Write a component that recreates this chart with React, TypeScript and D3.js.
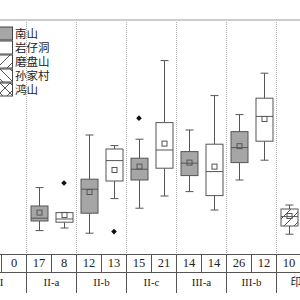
import React from 'react';
import * as d3 from 'd3';

// groups along the bottom, two cells (slots) per group
const groups = ['I', 'II-a', 'II-b', 'II-c', 'III-a', 'III-b', '印山'];
const slots = ['0', '1'];
const sites = ['南山', '岩仔洞', '磨盘山', '孙家村', '鸿山'];
const counts = [[null, 0], [17, 8], [12, 13], [15, 21], [14, 14], [26, 12], [10, null]];

// box statistics
const boxGroup = ['II-a', 'II-a', 'II-b', 'II-b', 'II-c', 'II-c', 'III-a', 'III-a', 'III-b', 'III-b', '印山'];
const boxSlot = ['0', '1', '0', '1', '0', '1', '0', '1', '0', '1', '0'];
const boxSite = ['南山', '岩仔洞', '南山', '岩仔洞', '南山', '岩仔洞', '南山', '岩仔洞', '南山', '岩仔洞', '磨盘山'];
const boxMin = [11.7, 13, 10.4, 27.7, 22.9, 29, 31.2, 22, 37, 46.9, 9.9];
const boxQ1 = [16.5, 15.9, 20.4, 36.5, 37, 42.9, 39.2, 29.2, 45.7, 56.4, 14];
const boxMed = [17.9, 17.5, 32.4, 46.7, 42.4, 52, 45.4, 41.2, 53.2, 68.8, 18.7];
const boxQ3 = [24, 20.7, 37.4, 52.5, 47.9, 65.7, 51.2, 54.9, 61.2, 77.9, 22.5];
const boxMax = [33.2, 20.8, 59.5, 54.2, 57.4, 96.7, 62, 79.2, 69.7, 90.4, 24.5];
const boxMean = [20.7, 19.5, 31, 42, 43.7, 55.2, 45.7, 43.7, 53.9, 67.5, 19];

// outliers
const outGroup = ['II-a', 'II-b', 'II-c'];
const outSlot = ['1', '1', '0'];
const outValue = [35.5, 11.2, 67.9];

const fills: Record<string, string> = {
  '南山': '#a6a6a6',
  '岩仔洞': '#ffffff',
  '磨盘山': 'url(#hatchA)',
  '孙家村': 'url(#hatchB)',
  '鸿山': 'url(#hatchC)',
};

const App = () => {
  const width = 300;
  const height = 300;
  const plotTop = 20;
  const plotBottom = 254;
  const rowMid = 272;
  const rowBottom = 293;

  const x = d3.scaleBand().domain(groups).range([-24, 326]);
  const xs = d3.scaleBand().domain(slots).range([0, x.bandwidth()]);
  const y = d3.scaleLinear().domain([0, 117]).range([plotBottom, plotTop]);
  const cx = (g: string, s: string) => (x(g) ?? 0) + (xs(s) ?? 0) + xs.bandwidth() / 2;

  const boxW = 17;
  const capW = 8;
  const stroke = '#555';
  const diamond = d3.symbol().type(d3.symbolSquare).size(16)();

  const boxes = boxGroup.map((g, i) => ({
    g, s: boxSlot[i], site: boxSite[i], min: boxMin[i], q1: boxQ1[i], med: boxMed[i],
    q3: boxQ3[i], max: boxMax[i], mean: boxMean[i],
  }));

  return (
    <svg width={width} height={height} style={{ position: 'fixed', left: 0, top: 0, background: '#fff' }}>
      <defs>
        <pattern id="hatchA" patternUnits="userSpaceOnUse" width="10" height="10">
          <path d="M-1,11 L11,-1 M-1,1 L1,-1 M9,11 L11,9" stroke="#444" strokeWidth="0.9" />
        </pattern>
        <pattern id="hatchB" patternUnits="userSpaceOnUse" width="10" height="10">
          <path d="M-1,-1 L11,11 M9,-1 L11,1 M-1,9 L1,11" stroke="#444" strokeWidth="0.9" />
        </pattern>
        <pattern id="hatchC" patternUnits="userSpaceOnUse" width="10" height="10">
          <path d="M-1,11 L11,-1 M-1,-1 L11,11" stroke="#444" strokeWidth="0.9" />
        </pattern>
      </defs>

      {/* top border */}
      <line x1={0} x2={width} y1={plotTop} y2={plotTop} stroke="#999" strokeWidth={1} />

      {/* dotted group separators */}
      {groups.slice(1).map((g) => (
        <line key={g} x1={(x(g) ?? 0) + 0.5} x2={(x(g) ?? 0) + 0.5} y1={plotTop + 2} y2={plotBottom}
          stroke="#aaa" strokeWidth={1} strokeDasharray="1,1" />
      ))}

      {/* boxes */}
      {boxes.map((b, i) => {
        const c = Math.round(cx(b.g, b.s)) + 0.5;
        return (
          <g key={i} stroke={stroke} strokeWidth={1}>
            <line x1={c} x2={c} y1={y(b.max)} y2={y(b.q3)} />
            <line x1={c} x2={c} y1={y(b.q1)} y2={y(b.min)} />
            <line x1={c - capW / 2} x2={c + capW / 2} y1={y(b.max)} y2={y(b.max)} />
            <line x1={c - capW / 2} x2={c + capW / 2} y1={y(b.min)} y2={y(b.min)} />
            <rect x={c - boxW / 2} y={y(b.q3)} width={boxW} height={y(b.q1) - y(b.q3)} fill={fills[b.site]} />
            <line x1={c - boxW / 2} x2={c + boxW / 2} y1={y(b.med)} y2={y(b.med)} />
            <rect x={c - 2.5} y={y(b.mean) - 2.5} width={5} height={5} fill="none" />
          </g>
        );
      })}

      {/* outliers */}
      {outGroup.map((g, i) => (
        <path key={i} d={diamond ?? ''} fill="#111"
          transform={`translate(${cx(g, outSlot[i]) + 0.5},${y(outValue[i])}) rotate(45)`} />
      ))}

      {/* legend */}
      {sites.map((s, i) => (
        <g key={s} transform={`translate(0,${27 + i * 14})`}>
          <rect x={-3} y={0} width={15.5} height={13} fill={fills[s]} stroke="#444" strokeWidth={1} />
          <text x={15} y={11} fontSize={11.5} fontFamily="'Noto Sans CJK SC'" fill="#222">{s}</text>
        </g>
      ))}

      {/* table */}
      <g stroke="#555" strokeWidth={1}>
        <line x1={0} x2={width} y1={plotBottom + 0.5} y2={plotBottom + 0.5} />
        <line x1={0} x2={width} y1={rowMid + 0.5} y2={rowMid + 0.5} />
        {groups.map((g) => slots.map((s) => (
          <line key={g + s} x1={(x(g) ?? 0) + (xs(s) ?? 0) + 0.5} x2={(x(g) ?? 0) + (xs(s) ?? 0) + 0.5}
            y1={plotBottom} y2={s === '0' ? rowBottom : rowMid} />
        )))}
      </g>
      {groups.map((g, gi) => slots.map((s, si) => counts[gi][si] === null ? null : (
        <text key={g + s} x={cx(g, s) + 0.5} y={plotBottom + 13} textAnchor="middle" fontSize={12.5}
          fontFamily="'Liberation Serif'" fill="#222">{counts[gi][si]}</text>
      )))}
      {groups.map((g) => (
        <text key={g} x={(x(g) ?? 0) + x.bandwidth() / 2 + 0.5} y={rowMid + 14} textAnchor="middle" fontSize={11}
          fontFamily="'Liberation Serif', 'Noto Sans CJK SC'" fill="#222">{g}</text>
      ))}
    </svg>
  );
};

export default App;
